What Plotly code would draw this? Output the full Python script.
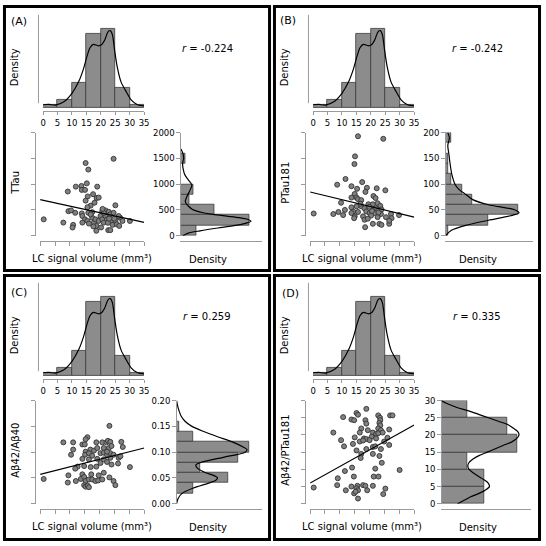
import plotly.graph_objects as go

W = H = 546
FONT = "DejaVu Sans"
AX = "#9a9a9a"
BAR_FILL = "#8c8c8c"
BAR_LINE = "#3a3a3a"

# ---------------- data ----------------
# top marginal: LC signal volume (same subjects in every panel)
lc_ticks = [0, 5, 10, 15, 20, 25, 30, 35]
lc_bin_edges = [0, 5, 10, 15, 20, 25, 30, 35]
lc_hist_counts = [1, 3, 10, 30, 32, 8, 1]
lc_kde_x = [0, 2, 4.3, 7.2, 10, 12.3, 14, 15.1, 16.3, 17.4, 19.1, 20.2, 21.4, 22.5, 23.3, 24, 24.8, 25.7, 27, 28.8, 30.5, 32.7, 35]
lc_kde_y = [1.07, 1.2, 0.93, 2.27, 5.73, 10.4, 15.7, 20.4, 24.4, 25.7, 25.1, 25.5, 27.6, 30.8, 31.3, 29.7, 23.1, 16.4, 10.4, 6.4, 3.07, 1.07, 0.67]

panel_labels = ["(A)", "(B)", "(C)", "(D)"]
y_titles = ["TTau", "PTau181", "Aβ42/Aβ40", "Aβ42/PTau181"]
r_texts = ["-0.224", "-0.242", "0.259", "0.335"]
x_title = "LC signal volume (mm³)"

# (A) TTau
ttau_x = [24.7, 15.3, 16.2, 15.7, 12.0, 13.9, 19.2, 14.0, 15.1, 9.3, 17.8, 16.0, 19.0, 19.7, 15.3, 25.3, 17.0, 15.9, 9.5, 10.4,
          11.8, 14.0, 16.2, 17.5, 20.9, 22.0, 23.1, 23.6, 1.2, 7.8, 11.1, 10.9, 14.2, 15.1, 14.2, 15.9, 16.4, 17.5, 18.1, 18.6,
          18.9, 18.9, 19.7, 20.3, 20.9, 21.4, 22.0, 22.5, 22.9, 23.6, 23.9, 24.4, 25.3, 25.8, 26.6, 26.9, 27.7, 30.2, 26.4, 24.7,
          21.4, 17.0, 22.8, 20.5, 17.9, 24.9, 21.0, 18.3, 23.2]
ttau_y = [1492, 1410, 1283, 1016, 952, 965, 952, 889, 889, 857, 806, 762, 730, 740, 680, 590, 584, 552, 476, 490,
          444, 432, 444, 457, 476, 490, 463, 413, 317, 254, 210, 159, 381, 317, 254, 286, 235, 349, 254, 317,
          190, 95, 286, 381, 317, 254, 381, 317, 108, 108, 286, 210, 286, 222, 190, 349, 286, 286, 381, 444,
          444, 413, 250, 160, 180, 330, 520, 640, 330]
ttau_fit = [699, -12.6]
ttau_ticks = [0, 500, 1000, 1500, 2000]
ttau_bin_edges = [0, 200, 400, 600, 800, 1000, 1200, 1400, 1600]
ttau_hist = [16.7, 70, 35, 9.3, 13.3, 0, 0, 5]
ttau_kde_v = [0, 50, 95, 150, 190, 240, 280, 320, 350, 380, 413, 445, 476, 520, 571, 620, 667, 762, 889, 984,
              1079, 1150, 1206, 1280, 1365, 1430, 1492, 1587, 1683]
ttau_kde_d = [2.7, 8, 20, 38, 53, 66, 71.7, 68, 60, 47, 33, 23, 16.7, 11.5, 8.3, 6, 5, 6.7, 10, 11.7,
              8.3, 5.5, 4, 3, 2.3, 2.5, 3.3, 2.7, 0.7]

# (B) PTau181
ptau_x = [16.1, 24.6, 15.1, 14.9, 11.9, 9.1, 17.5, 13.9, 15.8, 19.1, 22.4, 25.3, 18.6, 15.0, 13.9, 15.6, 16.1, 21.3, 22.0, 17.2,
          10.4, 19.6, 21.1, 22.7, 23.6, 17.2, 15.6, 13.9, 18.3, 21.1, 22.2, 22.9, 24.0, 11.7, 14.5, 16.1, 18.9, 20.0, 21.6, 23.8,
          27.2, 9.5, 7.8, 1.2, 11.1, 13.9, 15.0, 17.8, 20.5, 22.7, 25.5, 27.4, 18.3, 19.4, 23.3, 24.0, 26.6, 26.6, 18.5, 29.9,
          21.1, 14.8, 16.9, 19.9, 20.8, 23.0]
ptau_y = [193, 188, 154, 139, 110, 99, 104, 96, 91, 93, 92, 88, 85, 81, 74, 74, 71, 77, 73, 69,
          64, 61, 61, 63, 58, 57, 57, 55, 53, 52, 53, 49, 51, 50, 47, 46, 47, 44, 44, 42,
          42, 46, 42, 43, 40, 44, 37.5, 37.5, 39, 36, 36, 34, 31, 33, 23, 21, 23, 29, 16.5, 40,
          23, 34, 62, 56, 48, 45]
ptau_fit = [84.8, -1.39]
ptau_ticks = [0, 50, 100, 150, 200]
ptau_bin_edges = [0, 20, 40, 60, 80, 100, 120, 140, 160, 180, 200]
ptau_hist = [3, 43.7, 74.3, 27.7, 17, 6, 3, 3, 0, 6]
ptau_kde_v = [0, 10, 20, 30, 40, 44, 50, 60, 70, 80, 90, 100, 120, 140, 160, 175, 190, 200]
ptau_kde_d = [0.5, 6, 21, 44, 69, 75, 71, 44, 28, 21, 14, 10, 6.7, 5, 3.7, 2.7, 4.3, 2.7]

# (C) Abeta42/Abeta40
ab_x = [23.3, 15.9, 15.3, 7.8, 11.1, 14.2, 15.0, 18.9, 20.9, 22.3, 22.8, 23.6, 27.3, 27.8, 11.1, 10.4, 15.3, 16.9, 18.1, 19.2,
        21.4, 23.1, 24.0, 15.1, 16.4, 17.5, 20.3, 21.4, 22.5, 23.6, 24.7, 22.5, 16.4, 14.2, 19.2, 21.4, 23.6, 26.4, 27.0, 20.3,
        22.5, 24.0, 26.2, 12.6, 14.8, 18.9, 17.0, 30.2, 11.8, 9.5, 14.2, 17.2, 19.7, 21.4, 23.3, 24.7, 1.2, 9.3, 12.0, 13.7,
        14.8, 15.3, 16.4, 17.5, 18.6, 19.5, 20.9, 14.8, 15.3, 16.0, 25.3, 16.4]
ab_y = [0.151, 0.129, 0.125, 0.119, 0.119, 0.115, 0.115, 0.119, 0.119, 0.119, 0.122, 0.120, 0.120, 0.110, 0.105, 0.095, 0.101, 0.105, 0.103, 0.108,
        0.108, 0.108, 0.112, 0.095, 0.098, 0.093, 0.098, 0.099, 0.095, 0.098, 0.095, 0.101, 0.086, 0.087, 0.087, 0.086, 0.089, 0.089, 0.092, 0.079,
        0.081, 0.076, 0.078, 0.072, 0.073, 0.072, 0.071, 0.071, 0.068, 0.055, 0.057, 0.057, 0.055, 0.060, 0.051, 0.044, 0.048, 0.041, 0.044, 0.048,
        0.052, 0.044, 0.047, 0.047, 0.044, 0.045, 0.047, 0.036, 0.033, 0.035, 0.036, 0.032]
ab_fit = [0.057, 0.00146]
ab_ticks = [0.00, 0.05, 0.10, 0.15, 0.20]
ab_bin_edges = [0.02, 0.04, 0.06, 0.08, 0.10, 0.12, 0.14, 0.16]
ab_hist = [17, 52.7, 24.3, 62.7, 73.7, 17, 3]
ab_kde_v = [0, 0.01, 0.02, 0.03, 0.04, 0.045, 0.05, 0.055, 0.06, 0.07, 0.075, 0.08, 0.09, 0.10, 0.105, 0.11, 0.12, 0.13, 0.14, 0.15,
            0.16, 0.17, 0.18, 0.19, 0.20]
ab_kde_d = [0.5, 2, 6, 17, 33, 40, 42, 38, 30, 21, 20, 25, 48, 70, 72, 68, 57, 42, 28, 16, 9, 5, 3, 1.5, 0.5]

# (D) Abeta42/PTau181
abp_x = [18.9, 15.6, 16.1, 11.1, 13.9, 14.8, 18.6, 18.9, 22.9, 23.5, 23.6, 23.3, 23.6, 26.9, 27.7, 17.2, 26.6, 19.4, 22.9, 23.8,
         7.8, 16.7, 21.1, 22.2, 22.9, 24.4, 20.7, 15.0, 18.1, 18.9, 20.0, 22.2, 26.0, 10.4, 14.4, 16.7, 17.8, 24.9, 26.6, 11.4,
         18.9, 21.1, 21.9, 23.8, 15.6, 17.2, 21.1, 23.3, 17.0, 24.1, 14.1, 21.9, 11.7, 30.1, 14.7, 9.3, 21.4, 23.0, 9.1, 13.9,
         15.9, 17.8, 18.6, 21.1, 1.2, 15.6, 16.1, 12.0, 19.2, 25.3, 14.8, 15.3, 24.6, 16.1]
abp_y = [27.6, 26.4, 25.9, 25.2, 24.5, 24.3, 24.3, 23.3, 25.7, 25.0, 24.3, 23.5, 22.8, 25.7, 25.7, 21.9, 21.6, 21.4, 21.9, 21.4,
         20.7, 20.7, 20.7, 20.3, 20.5, 20.7, 19.5, 19.3, 19.0, 18.8, 18.5, 19.0, 19.2, 18.5, 17.4, 18.1, 18.4, 18.1, 17.1, 16.7,
         15.9, 16.5, 16.7, 15.9, 15.5, 14.5, 14.5, 13.9, 13.3, 11.9, 10.5, 10.2, 9.5, 9.8, 7.9, 7.4, 7.9, 7.9, 5.4, 5.0,
         5.2, 5.4, 5.2, 5.2, 4.7, 4.5, 3.9, 3.9, 3.9, 4.4, 3.0, 3.5, 2.8, 1.5]
abp_fit = [6.0, 0.483]
abp_ticks = [0, 5, 10, 15, 20, 25, 30]
abp_bin_edges = [0, 5, 10, 15, 20, 25, 30]
abp_hist = [43.3, 43.3, 26.7, 76.7, 66.7, 26.7]
abp_kde_v = [0, 1, 2, 3, 4, 5, 6, 7, 8, 9, 10, 11, 12, 13, 14, 15, 16, 17, 18, 19, 20, 21, 22, 23, 24, 25, 26, 27, 28, 29, 30]
abp_kde_d = [16.7, 23.3, 30, 38.3, 45, 49, 47.7, 43.3, 37.7, 32.3, 28.3, 27, 28.3, 32.3, 38.3, 46.7, 55, 63.3, 71.7, 76.7,
             79, 77.7, 73, 68, 58, 48, 38, 28, 16, 7, 0]

panels = [
    dict(x=ttau_x, y=ttau_y, fit=ttau_fit, ticks=ttau_ticks, fmt="", edges=ttau_bin_edges, hist=ttau_hist,
         kv=ttau_kde_v, kd=ttau_kde_d, ox=0, oy=0, rx=(180, 263)),
    dict(x=ptau_x, y=ptau_y, fit=ptau_fit, ticks=ptau_ticks, fmt="", edges=ptau_bin_edges, hist=ptau_hist,
         kv=ptau_kde_v, kd=ptau_kde_d, ox=274, oy=0, rx=(174.7, 264)),
    dict(x=ab_x, y=ab_y, fit=ab_fit, ticks=ab_ticks, fmt=".2f", edges=ab_bin_edges, hist=ab_hist,
         kv=ab_kde_v, kd=ab_kde_d, ox=0, oy=273, rx=(175.7, 263.3)),
    dict(x=abp_x, y=abp_y, fit=abp_fit, ticks=abp_ticks, fmt="", edges=abp_bin_edges, hist=abp_hist,
         kv=abp_kde_v, kd=abp_kde_d, ox=274, oy=273, rx=(170.7, 262.3)),
]
label_pos = [(16.7, 17), (15.2, 16), (16.7, 20.3), (17.3, 21)]

# ---------------- helpers ----------------
def fx(px):
    return px / W


def fy(py):
    return 1 - py / H


def axkey(n, kind):
    return f"{kind}axis" if n == 1 else f"{kind}axis{n}"


def axref(n, kind):
    return kind if n == 1 else f"{kind}{n}"


tick_font = dict(family=FONT, size=8.5, color="black")
fig = go.Figure()
layout = {}
shapes = []
annots = []


def ann(text, x, y, size=10, angle=0):
    annots.append(dict(text=text, x=fx(x), y=fy(y), xref="paper", yref="paper", showarrow=False,
                       xanchor="center", yanchor="middle", textangle=angle,
                       font=dict(family=FONT, size=size, color="black")))


lc_centers = [(a + b) / 2 for a, b in zip(lc_bin_edges[:-1], lc_bin_edges[1:])]
lc_widths = [b - a for a, b in zip(lc_bin_edges[:-1], lc_bin_edges[1:])]
xr = [lc_ticks[0], lc_ticks[-1]]

for p, P in enumerate(panels):
    ox, oy = P["ox"], P["oy"]
    n_top, n_sc, n_rt = 3 * p + 1, 3 * p + 2, 3 * p + 3

    # ---- top histogram ----
    fig.add_trace(go.Bar(x=lc_centers, y=lc_hist_counts, width=lc_widths,
                         marker=dict(color=BAR_FILL, line=dict(color=BAR_LINE, width=0.8)),
                         xaxis=axref(n_top, "x"), yaxis=axref(n_top, "y"), showlegend=False))
    fig.add_trace(go.Scatter(x=lc_kde_x, y=lc_kde_y, mode="lines",
                             line=dict(color="black", width=1.2, shape="spline", smoothing=0.8),
                             xaxis=axref(n_top, "x"), yaxis=axref(n_top, "y"), showlegend=False))
    layout[axkey(n_top, "x")] = dict(domain=[fx(ox + 40.7), fx(ox + 143.2)], range=xr, anchor=axref(n_top, "y"),
                                     tickmode="array", tickvals=lc_ticks, ticks="outside", ticklen=3,
                                     tickcolor=AX, tickwidth=1, showline=True, linecolor=AX, linewidth=1,
                                     showgrid=False, zeroline=False, tickfont=tick_font)
    layout[axkey(n_top, "y")] = dict(domain=[fy(oy + 108.3), fy(oy + 10)], range=[-1.6, 37.72],
                                     anchor=axref(n_top, "x"), visible=False)
    shapes.append(dict(type="line", xref="paper", yref="paper", x0=fx(ox + 36), x1=fx(ox + 36),
                       y0=fy(oy + 10), y1=fy(oy + 100), line=dict(color=AX, width=1)))

    # ---- scatter ----
    ymax = P["ticks"][-1]
    fig.add_trace(go.Scatter(x=P["x"], y=P["y"], mode="markers",
                             marker=dict(size=5, color="#808080", line=dict(color="#333333", width=0.9)),
                             xaxis=axref(n_sc, "x"), yaxis=axref(n_sc, "y"), showlegend=False))
    b0, b1 = P["fit"]
    fig.add_trace(go.Scatter(x=xr, y=[b0 + b1 * v for v in xr], mode="lines",
                             line=dict(color="black", width=1.2),
                             xaxis=axref(n_sc, "x"), yaxis=axref(n_sc, "y"), showlegend=False))
    layout[axkey(n_sc, "x")] = dict(domain=[fx(ox + 37.7), fx(ox + 143.3)], range=xr, anchor="free",
                                    position=fy(oy + 240.5), tickmode="array", tickvals=lc_ticks,
                                    ticks="outside", ticklen=4, tickcolor=AX, showticklabels=False,
                                    showline=True, linecolor=AX, linewidth=1, showgrid=False, zeroline=False)
    layout[axkey(n_sc, "y")] = dict(domain=[fy(oy + 235), fy(oy + 130)], range=[0, ymax], anchor="free",
                                    position=fx(ox + 32), tickmode="array", tickvals=P["ticks"],
                                    ticks="outside", ticklen=3.5, tickcolor=AX, showticklabels=False,
                                    showline=True, linecolor=AX, linewidth=1, showgrid=False, zeroline=False)

    # ---- right histogram ----
    rx0, rx1 = P["rx"]
    edges = P["edges"]
    centers = [(a + b) / 2 for a, b in zip(edges[:-1], edges[1:])]
    widths = [b - a for a, b in zip(edges[:-1], edges[1:])]
    fig.add_trace(go.Bar(y=centers, x=P["hist"], width=widths, orientation="h",
                         marker=dict(color=BAR_FILL, line=dict(color=BAR_LINE, width=0.8)),
                         xaxis=axref(n_rt, "x"), yaxis=axref(n_rt, "y"), showlegend=False))
    fig.add_trace(go.Scatter(x=P["kd"], y=P["kv"], mode="lines",
                             line=dict(color="black", width=1.2, shape="spline", smoothing=0.8),
                             xaxis=axref(n_rt, "x"), yaxis=axref(n_rt, "y"), showlegend=False))
    layout[axkey(n_rt, "x")] = dict(domain=[fx(ox + rx0), fx(ox + rx1)], range=[0, rx1 - rx0], anchor="free",
                                    position=fy(oy + 240.5), showticklabels=False, ticks="",
                                    showline=True, linecolor=AX, linewidth=1, showgrid=False, zeroline=False)
    layout[axkey(n_rt, "y")] = dict(domain=[fy(oy + 235), fy(oy + 130)], range=[0, ymax], anchor="free",
                                    position=fx(ox + rx0), tickmode="array", tickvals=P["ticks"],
                                    tickformat=P["fmt"], ticks="outside", ticklen=4, tickcolor=AX,
                                    showline=True, linecolor=AX, linewidth=1, showgrid=False, zeroline=False,
                                    tickfont=tick_font)

    # ---- texts ----
    lx, ly = label_pos[p]
    ann(panel_labels[p], ox + lx, oy + ly, size=11)
    ann("Density", ox + 11.7, oy + 64, angle=-90)
    ann(f"<i>r</i> = {r_texts[p]}", ox + 207.5, oy + 44)
    ann(y_titles[p], ox + 13.3, oy + 181, angle=-90)
    ann(x_title, ox + 90, oy + 258.7)
    ann("Density", ox + 208, oy + 259.7)

# panel borders
for (x0, y0, x1, y1) in [(1.5, 1.5, 270.5, 270.5), (275.5, 1.5, 544.5, 270.5),
                         (1.5, 275.5, 270.5, 544.5), (275.5, 275.5, 544.5, 544.5)]:
    shapes.append(dict(type="rect", xref="paper", yref="paper", x0=fx(x0), x1=fx(x1), y0=fy(y1), y1=fy(y0),
                       line=dict(color="black", width=3), fillcolor="rgba(0,0,0,0)"))

fig.update_layout(width=W, height=H, margin=dict(l=0, r=0, t=0, b=0), paper_bgcolor="white",
                  plot_bgcolor="rgba(0,0,0,0)", showlegend=False, bargap=0, shapes=shapes,
                  annotations=annots, font=dict(family=FONT, size=10, color="black"), **layout)
fig.write_html("out.html")
